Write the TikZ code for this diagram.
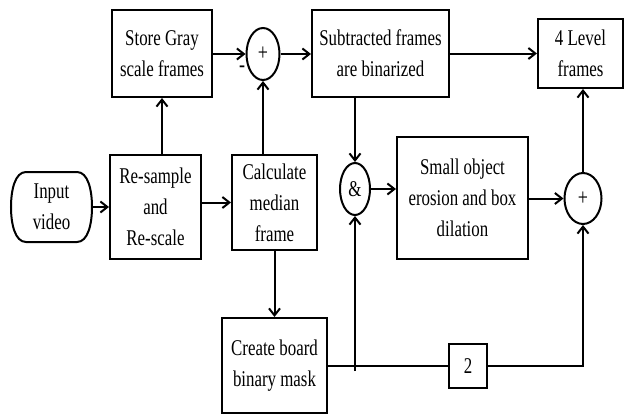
\documentclass[tikz,border=0pt]{standalone}
\usepackage{fontspec}
\setmainfont{Liberation Serif}[FakeStretch=0.75]
\usetikzlibrary{arrows.meta,shapes.geometric}
\begin{document}
\begin{tikzpicture}[x=1pt,y=-1pt,
  every node/.style={font=\fontsize{22.5}{31}\selectfont, align=center, inner sep=0pt},
  blk/.style={draw, line width=2pt, rectangle},
  circ/.style={draw, line width=2pt, ellipse},
  arr/.style={line width=2pt, -{Straight Barb[length=7pt,width=11pt]}},
  ln/.style={line width=2pt},
  sgn/.style={font=\fontsize{24}{26}\selectfont}]
\useasboundingbox (0,0) rectangle (625,415);
\node[blk, minimum width=100pt, minimum height=87pt] (store) at (162,53.5) {Store Gray\\scale frames};
\node[blk, minimum width=137pt, minimum height=87pt] (sub) at (380.5,53.5) {Subtracted frames\\are binarized};
\node[blk, minimum width=85pt, minimum height=69pt] (four) at (580.5,53.5) {4 Level\\frames};
\node[circ, sgn, minimum width=33pt, minimum height=52pt] (plus) at (263,54) {+};
\node[minimum width=81pt, minimum height=70pt] (input) at (51.5,207) {Input\\video};
\draw[ln] (26,172) -- (77,172) .. controls (88,172) and (92,190) .. (92,207)
  .. controls (92,224) and (88,242) .. (77,242) -- (26,242)
  .. controls (15,242) and (11,224) .. (11,207)
  .. controls (11,190) and (15,172) .. (26,172) -- cycle;
\node[blk, minimum width=91pt, minimum height=104pt] (resample) at (155.5,207) {Re-sample\\and\\Re-scale};
\node[blk, minimum width=85pt, minimum height=95pt] (calc) at (274.5,202.5) {Calculate\\median\\frame};
\node[circ, minimum width=30pt, minimum height=52pt] (amp) at (355,189) {\&};
\node[blk, minimum width=131pt, minimum height=122pt] (small) at (462.5,198) {Small object\\erosion and box\\dilation};
\node[circ, sgn, minimum width=37pt, minimum height=51pt] (plusr) at (583,198.5) {+};
\node[blk, minimum width=105pt, minimum height=95pt] (create) at (274.5,365.5) {Create board\\binary mask};
\node[blk, minimum width=38pt, minimum height=44pt] (two) at (468,366) {2};
\node[sgn] (minus) at (242,69) {-};
\coordinate (j) at (amp.south |- two.west);

\draw[arr] (input) -- (resample);
\draw[arr] (resample.east |- calc.west) -- (calc.west);
\draw[arr] (resample.north -| store.south) -- (store.south);
\draw[arr] (store.east |- plus.west) -- (plus.west);
\draw[arr] (calc.north -| plus.south) -- (plus.south);
\draw[arr] (plus.east) -- (sub.west |- plus.east);
\draw[arr] (sub.east) -- (four.west |- sub.east);
\draw[arr] (sub.south -| amp.north) -- (amp.north);
\draw[arr] (amp.east) -- (amp.east -| small.west);
\draw[arr] (small.east |- plusr.west) -- (plusr.west);
\draw[arr] (plusr.north) -- (plusr.north |- four.south);
\draw[arr] (calc.south) -- (create.north);
\draw[ln] (create.east |- two.west) -- (two.west);
\draw[arr] ([yshift=-5pt]j) -- (amp.south);
\draw[arr] (two.east) -- (plusr.south |- two.east) -- (plusr.south);
\end{tikzpicture}
\end{document}
